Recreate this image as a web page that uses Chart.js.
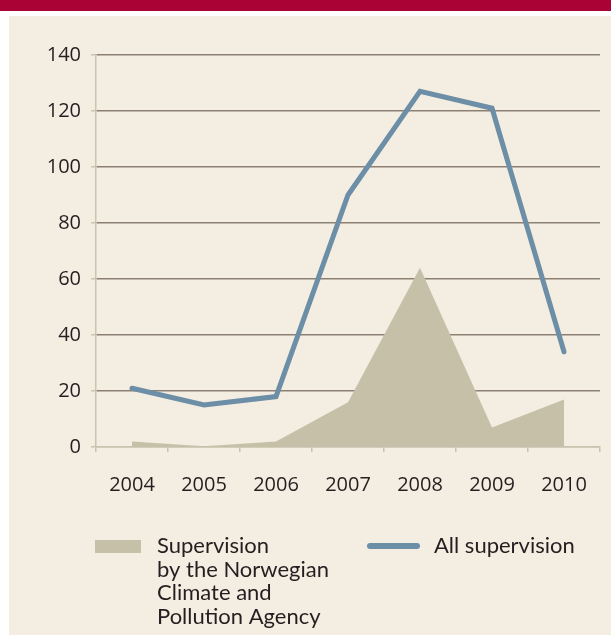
<!DOCTYPE html>
<html>
<head>
<meta charset="utf-8">
<script src="https://cdn.jsdelivr.net/npm/chart.js@4.4.1/dist/chart.umd.min.js"></script>
<style>
  body { margin: 0; background: #ffffff; width: 611px; height: 637px; position: relative; overflow: hidden; }
  .header { position: absolute; left: 0; top: 0; width: 611px; height: 11px; background: #aa0234; }
  .panel { position: absolute; left: 9px; top: 16px; width: 602px; height: 619px; background: #f4ede1; }
  canvas { display: block; }
</style>
</head>
<body>
<div class="header"></div>
<div class="panel">
  <canvas id="chartCanvas" width="602" height="619"></canvas>
</div>
<script>
// ---- data ----
const years = ["2004", "2005", "2006", "2007", "2008", "2009", "2010"];
const climateAgency = [2, 0.3, 2, 16, 64, 7, 17];
const allSupervision = [21, 15, 18, 90, 127, 121, 34];
const yTicks = [0, 20, 40, 60, 80, 100, 120, 140];
const legendLabels = [
    ["Supervision", "by the Norwegian", "Climate and", "Pollution Agency"],
    ["All supervision"]
];

const areaColor = "#c6c0a9";
const lineColor = "#6c8ea6";
const textColor = "#231f20";
const fontFamily = "'Open Sans', 'Noto Sans', sans-serif";
const legendFont = "Lato, 'Open Sans', sans-serif";

// legend drawn by hand since the first label runs over four lines
const customLegend = {
    id: 'customLegend',
    afterDraw(chart) {
        const ctx = chart.ctx;
        ctx.save();
        ctx.font = "22px " + legendFont;
        ctx.textBaseline = "alphabetic";
        ctx.textAlign = "left";

        // area swatch
        ctx.fillStyle = areaColor;
        ctx.fillRect(86, 524, 46, 13);
        ctx.fillStyle = textColor;
        legendLabels[0].forEach((line, i) => {
            ctx.fillText(line, 148, 537 + i * 23.5);
        });

        // line swatch
        ctx.strokeStyle = lineColor;
        ctx.lineWidth = 6;
        ctx.lineCap = "round";
        ctx.beginPath();
        ctx.moveTo(361, 530);
        ctx.lineTo(408, 530);
        ctx.stroke();
        ctx.fillText(legendLabels[1][0], 425, 537);
        ctx.restore();
    }
};

const chartCanvas = document.getElementById("chartCanvas");

const supervisionChart = new Chart(chartCanvas, {
    type: "line",
    data: {
        labels: years,
        datasets: [
            {
                label: legendLabels[0].join(" "),
                data: climateAgency,
                fill: "origin",
                backgroundColor: areaColor,
                borderWidth: 0,
                pointRadius: 0,
                tension: 0,
                order: 2
            },
            {
                label: legendLabels[1][0],
                data: allSupervision,
                fill: false,
                borderColor: lineColor,
                borderWidth: 5,
                borderCapStyle: "round",
                borderJoinStyle: "miter",
                pointRadius: 0,
                tension: 0,
                order: 1
            }
        ]
    },
    options: {
        responsive: false,
        animation: false,
        layout: { padding: { top: 39, right: 11, left: 0, bottom: 0 } },
        plugins: {
            legend: { display: false },
            tooltip: { enabled: false }
        },
        scales: {
            x: {
                offset: true,
                grid: {
                    offset: true,
                    drawOnChartArea: false,
                    tickLength: 5,
                    tickColor: "#c9c2ad",
                    lineWidth: 1.5
                },
                border: { color: "#c9c2ad", width: 1.5 },
                ticks: {
                    color: textColor,
                    font: { family: fontFamily, size: 20 },
                    padding: 21,
                    maxRotation: 0
                },
                afterFit(scale) { scale.height = 188; }
            },
            y: {
                min: 0,
                max: 140,
                afterBuildTicks(scale) { scale.ticks = yTicks.map(v => ({ value: v })); },
                grid: {
                    color: ctx => ctx.tick && ctx.tick.value === 0 ? "#c9c2ad" : "#8c8073",
                    tickColor: "#c9c2ad",
                    tickLength: 5,
                    lineWidth: 1.5
                },
                border: { color: "#c9c2ad", width: 1.5 },
                ticks: {
                    color: textColor,
                    font: { family: fontFamily, size: 20 },
                    padding: 10
                },
                afterFit(scale) { scale.width = 87; }
            }
        }
    },
    plugins: [customLegend]
});
</script>
</body>
</html>
